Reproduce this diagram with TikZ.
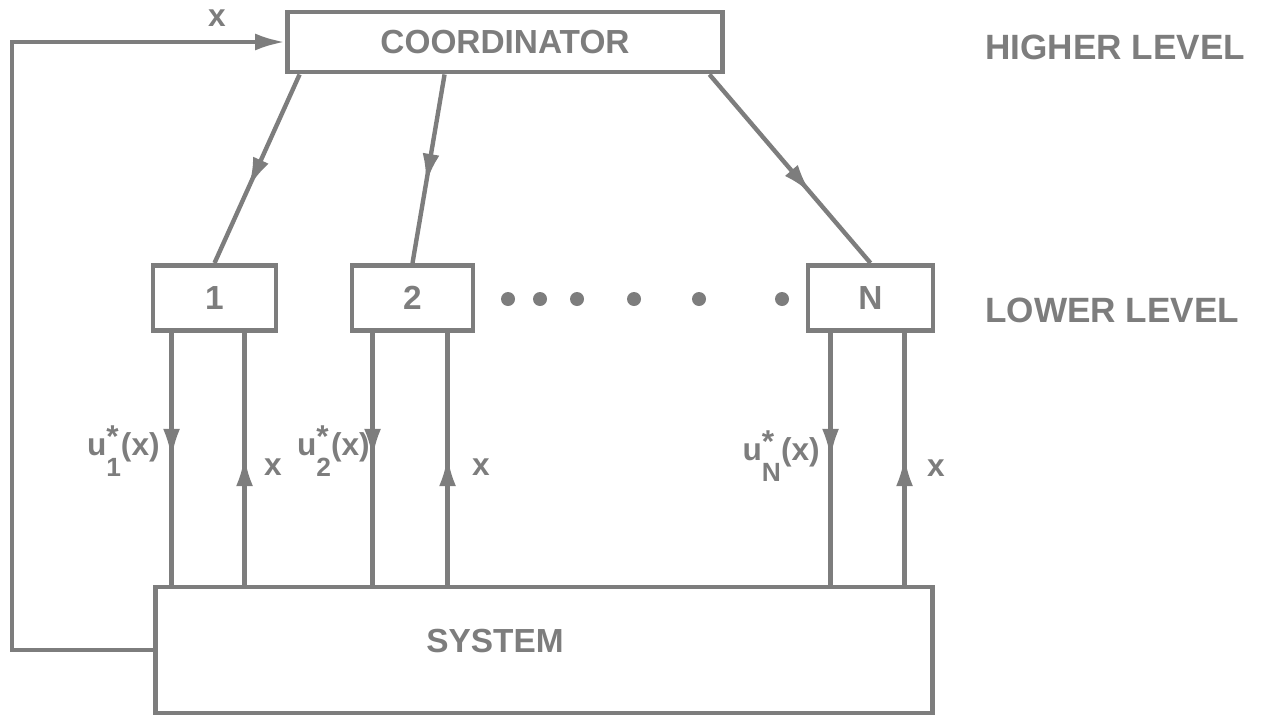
\documentclass[tikz,border=0pt]{standalone}
\usepackage{fontspec}
\setmainfont{Liberation Sans}
\usepackage{tikz}
\usetikzlibrary{positioning}
\usetikzlibrary{arrows.meta, decorations.markings}
\definecolor{ink}{RGB}{125,125,125}
\newcommand{\ustar}[1]{u\rlap{\raisebox{0.45ex}{*}}\raisebox{-1.3ex}{\fontsize{15}{17}\selectfont #1}(x)}

\begin{document}
\begin{tikzpicture}[x=0.02cm, y=-0.02cm]

    \tikzset{
        block/.style={
            draw=ink,
            line width=2.8pt,
            minimum height=1.3cm,
            font=\fontsize{19}{23}\selectfont\bfseries,
            text=ink
        },
        flow/.style={
            draw=ink,
            line width=2.5pt
        },
        tip/.style={
            -{Latex[length=0.6cm, width=0.34cm]}
        },
        midarrow/.style={
            postaction={decorate},
            decoration={markings,
                mark=at position #1 with {\arrow{Latex[length=0.6cm, width=0.34cm]}}}
        },
        lbl/.style={
            text=ink,
            font=\fontsize{18}{20}\selectfont\bfseries,
            inner sep=0pt
        },
        level/.style={
            text=ink,
            font=\fontsize{20}{24}\selectfont\bfseries,
            inner sep=0pt,
            anchor=west
        }
    }
    \useasboundingbox (0,0) rectangle (1283,717);

    \node[block, minimum width=8.7cm, minimum height=1.2cm] (coord) at (505,42) {COORDINATOR};
    \node[block, minimum width=2.46cm] (b1) at (214.5,298) {1};
    \node[block, minimum width=2.42cm] (b2) at (412.5,298) {2};
    \node[block, minimum width=2.5cm] (bN) at (870.5,298) {N};
    \node[block, minimum width=15.56cm, minimum height=2.52cm] (sys) at (544,650) {};
    \node[lbl, font=\fontsize{19}{23}\selectfont\bfseries] (systext) at (495,641) {SYSTEM};

    \node[level] (high) at (985,47) {HIGHER LEVEL};
    \node[level] (low) at (985,310) {LOWER LEVEL};

    % dots between 2 and N
    \foreach \d in {508,540,577,634,699,782}
        \fill[ink] (\d,299) circle (0.14cm);

    \draw[flow, midarrow=0.6] ([xshift=0.29cm]coord.south west) -- (b1.north);
    \draw[flow, midarrow=0.58] ([xshift=3.19cm]coord.south west) -- (b2.north);
    \draw[flow, midarrow=0.63] ([xshift=-0.31cm]coord.south east) -- (bN.north);

    \foreach \b/\dx/\ux in {b1/0.42/1.88, b2/0.46/1.96, bN/0.5/1.98} {
        \coordinate (d\b) at ([xshift=\dx cm]\b.south west);
        \coordinate (u\b) at ([xshift=\ux cm]\b.south west);
        \draw[flow, midarrow=0.5] (d\b) -- (d\b |- sys.north);
        \draw[flow, midarrow=0.51] (u\b |- sys.north) -- (u\b);
    }

    \node[lbl, anchor=base east] (ustar1) at (160,455) {\ustar{1}};
    \node[lbl, anchor=base east] (ustar2) at (370,455) {\ustar{2}};
    \node[lbl, anchor=base east] (ustarN) at (820,460) {\ustar{N}};
    \node[lbl] (x1) at (273,467) {x};
    \node[lbl] (x2) at (481,467) {x};
    \node[lbl] (xN) at (936,468) {x};

    % feedback to the coordinator
    \coordinate (fb) at (12,300);
    \draw[flow, tip] (sys.west) -| (fb) |- (coord.west);
    \node[lbl] (xfb) at (217,18) {x};

\end{tikzpicture}
\end{document}
